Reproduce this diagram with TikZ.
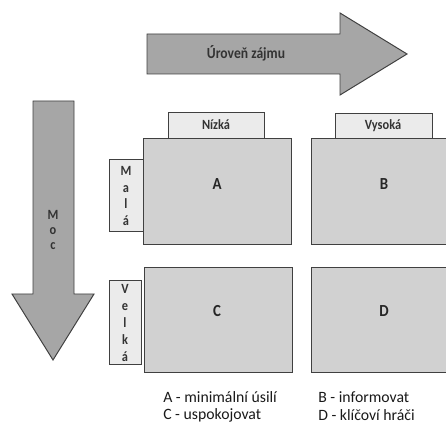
\documentclass[tikz,border=0pt]{standalone}
\usepackage{fontspec}
\setmainfont{Carlito}
\newfontfamily\condfont[FakeStretch=0.88]{Carlito}
\tikzset{
  arrowbody/.style={draw=black!75, fill=black!35, line width=0.7pt},
  field/.style={draw=black!75, fill=black!18, line width=0.7pt},
  tabbox/.style={draw=black!75, fill=black!8, line width=0.7pt},
  boxlabel/.style={font=\condfont\bfseries\large, text=black!85},
  tablabel/.style={font=\condfont\bfseries\normalsize, text=black!80},
  legend/.style={font=\fontsize{11.2}{13}\selectfont, anchor=west, text=black!90, inner sep=0pt}
}
\begin{document}
\begin{tikzpicture}[x=0.025cm,y=-0.025cm]
    \useasboundingbox (0,0) rectangle (446,425);
    \clip (0,0) rectangle (446,425);

    % Interest arrow
    \draw[arrowbody] (147,34) -- (340,34) -- (340,13) -- (407,54) -- (340,95) -- (340,74) -- (147,74) -- cycle;
    \node[tablabel, font=\condfont\bfseries\fontsize{11}{13}\selectfont] (interest) at (246,53) {Úroveň zájmu};

    % Power arrow
    \draw[arrowbody] (33,101) -- (74,101) -- (74,294) -- (94,294) -- (53,360) -- (12,294) -- (33,294) -- cycle;
    \node[tablabel, align=center, inner sep=0pt] (power) at (53,230) {M\\[-1pt]o\\[-1pt]c};

    % Column tabs
    \draw[tabbox] (168,112) rectangle (264,138);
    \node[tablabel] (low) at (216,125) {Nízká};
    \draw[tabbox] (335,113) rectangle (432,138);
    \node[tablabel] (high) at (383,126) {Vysoká};

    % Row tabs
    \draw[tabbox] (109,159) rectangle (143,231);
    \node[tablabel, align=center, inner sep=0pt] (small) at (126,196) {M\\[0pt]a\\[0pt]l\\[0pt]á};
    \draw[tabbox] (109,280) rectangle (141,364);
    \node[tablabel, align=center, inner sep=0pt] (big) at (125,323) {V\\[0pt]e\\[0pt]l\\[0pt]k\\[0pt]á};

    % Fields
    \draw[field] (143,138) rectangle (291,244);
    \node[boxlabel] (A) at (217,184) {A};
    \draw[field] (311,138) rectangle (452,244);
    \node[boxlabel] (B) at (384,184) {B};
    \draw[field] (144,267) rectangle (292,372);
    \node[boxlabel] (C) at (217,311) {C};
    \draw[field] (311,267) rectangle (452,372);
    \node[boxlabel] (D) at (384,311) {D};

    % Legend
    \node[legend] (legA) at (163,397) {A - minimální úsilí};
    \node[legend] (legC) at (163,415) {C - uspokojovat};
    \node[legend] (legB) at (318,397) {B - informovat};
    \node[legend] (legD) at (318,415) {D - klíčoví hráči};
\end{tikzpicture}
\end{document}
